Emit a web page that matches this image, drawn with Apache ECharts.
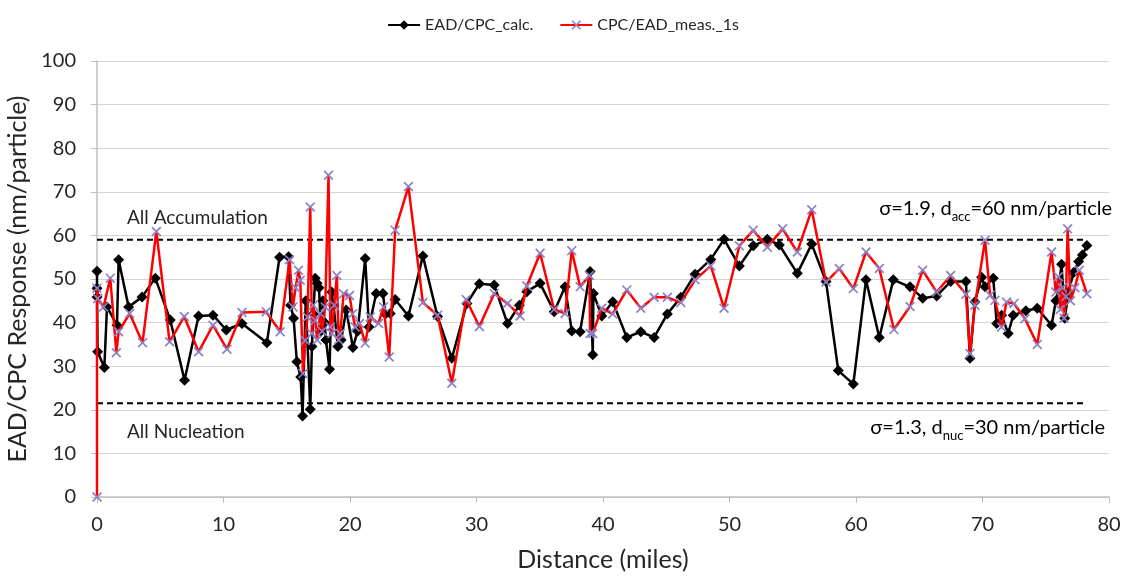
<!DOCTYPE html>
<html><head><meta charset="utf-8">
<script src="https://cdn.jsdelivr.net/npm/echarts@6/dist/echarts.min.js"></script>
<style>html,body{margin:0;padding:0;background:#fff}#c{width:1126px;height:576px}</style>
</head><body><div id="c"></div>
<script>
// Distance (miles), EAD/CPC calc. values
const calcDist = [0,0,0,0.05,0.58,0.79,1.58,1.71,2.5,3.56,4.61,5.79,6.92,8.03,9.17,10.22,11.46,13.43,14.43,15.14,15.3,15.54,15.8,16.1,16.25,16.5,16.86,16.99,17.1,17.25,17.4,17.55,17.7,17.85,18.0,18.1,18.38,18.55,18.7,19.04,19.3,19.7,20.23,20.6,21.2,21.5,22.07,22.6,22.8,23.18,23.57,24.62,25.76,26.92,28.05,29.24,30.23,31.4,32.45,33.39,33.98,35.03,36.14,37.0,37.53,38.19,38.98,39.19,39.24,39.9,40.77,41.88,42.99,44.04,45.09,46.15,47.28,48.52,49.57,50.78,51.88,52.99,53.94,55.36,56.5,57.63,58.6,59.79,60.79,61.84,62.95,64.27,65.27,66.38,67.48,68.69,69.01,69.4,69.93,70.2,70.85,71.12,71.51,72.03,72.43,73.43,74.33,75.46,75.8,76.0,76.25,76.5,76.8,77.2,77.6,77.9,78.25];
const calcVal  = [47.9,51.8,45.9,33.3,29.7,43.6,39.4,54.4,43.6,45.9,50.2,40.6,26.8,41.5,41.7,38.3,39.8,35.4,55.0,55.1,44,41,31,27.5,18.6,45,20.1,34.5,42,50.2,49,48,38,45,40,36,29.3,47,44,34.5,36,42.9,34.3,38,54.7,39,46.7,46.7,42,42.1,45.3,41.5,55.3,41.4,31.8,44.4,48.9,48.6,39.8,44,47.1,49,42.5,48.2,38.1,37.9,51.7,32.6,46.7,41.5,44.8,36.6,37.9,36.6,42,45.8,51.1,54.5,59.1,53,57.6,59.1,57.8,51.3,58,49.4,29,25.9,49.8,36.6,49.8,48.2,45.6,46.1,49.4,49.4,31.8,44.8,50.4,48.2,50.2,39.8,41.7,37.5,41.7,42.7,43.3,39.4,45,47.5,53.4,41,47,51.5,54,55.5,57.7];
// Distance (miles), CPC/EAD measured 1s values
const measDist = [0,0,0.05,0.52,1.05,1.53,1.71,2.58,3.6,4.69,5.74,6.9,8.03,9.17,10.27,11.46,13.38,14.48,15.22,15.49,15.7,15.93,16.07,16.28,16.46,16.64,16.86,16.99,17.1,17.25,17.4,17.65,17.8,18.04,18.3,18.45,18.57,18.75,18.96,19.1,19.23,19.49,19.96,20.2,20.41,20.75,21.2,21.6,22.25,22.65,23.1,23.57,24.62,25.76,26.92,28.05,29.18,30.23,31.4,32.45,33.45,33.98,35.03,36.14,37.0,37.53,38.19,38.93,38.98,39.19,39.9,40.77,41.88,42.99,44.04,45.09,46.15,47.28,48.52,49.57,50.78,51.88,52.99,54.2,55.36,56.5,57.63,58.68,59.79,60.79,61.84,63.0,64.27,65.27,66.38,67.48,68.69,69.01,69.4,70.2,70.6,70.98,71.51,71.9,72.49,73.35,74.33,75.46,75.8,76.0,76.15,76.3,76.45,76.6,76.73,76.95,77.3,77.65,78.25];
const measVal  = [0,47.9,45.5,43.6,50.2,33.1,37.9,42.1,35.4,60.9,35.6,41.4,33.3,39.4,33.9,42.3,42.5,37.9,54.4,43.6,48,52,49.7,28.3,35.9,41.3,66.5,37.5,44,40.5,36,42.1,38,43.6,73.8,39,37.5,44,50.8,36,37.5,46.6,46.2,42,39,39.8,35.3,41.3,39.8,43.6,32.1,61.2,71.2,44.6,41.7,26.1,45.3,39.1,46.7,44.4,41.5,48.4,55.9,43,42.1,56.5,48.2,50.8,37.5,37.5,43.3,42,47.5,43.3,45.8,45.8,44.6,49.8,53,43.3,57.6,61.2,57.3,61.5,56.2,65.9,49.3,52.4,47.8,56.2,52.4,38.4,43.7,52,47,50.8,46.5,32.9,44,58.9,46.3,45.1,39,44.7,44.4,40.9,35,56.2,47,50.5,43,48,41,46,61.5,45,48,52,46.6];
// Reference lines: All Accumulation / All Nucleation
const refDist = [0, 78.25];
const accVal = 59;
const nucVal = 21.5;
const xTicks = [0,10,20,30,40,50,60,70,80];

const pair = (xs, ys) => xs.map((x,i) => [x, ys[i]]);
const FONT = 'Lato';
const X_PATH = 'path://M0,1.2 L1.2,0 L10,8.8 L8.8,10 Z M8.8,0 L10,1.2 L1.2,10 L0,8.8 Z';
const TXT = '#262626';

const chart = echarts.init(document.getElementById('c'), null, {renderer:'canvas'});
chart.setOption({
  animation:false,
  textStyle:{fontFamily:FONT},
  legend:{
    top:12, left:'center', itemWidth:32, itemHeight:12, itemGap:26,
    textStyle:{fontFamily:FONT, fontSize:16, color:TXT},
    data:['EAD/CPC_calc.','CPC/EAD_meas._1s']
  },
  grid:{left:97, right:17, top:61, bottom:79, outerBoundsMode:'none', containLabel:false},
  xAxis:{
    type:'value', min:0, max:80, interval:10,
    name:'Distance (miles)', nameLocation:'middle', nameGap:50,
    nameTextStyle:{fontFamily:FONT, fontSize:25, color:TXT},
    axisLine:{show:true, lineStyle:{color:'#bfbfbf', width:1.5}},
    axisTick:{show:true, length:6, lineStyle:{color:'#bfbfbf'}},
    axisLabel:{fontSize:20, color:TXT, margin:18, formatter:v=>xTicks.includes(v)?String(v):''},
    splitLine:{show:false}
  },
  yAxis:{
    type:'value', min:0, max:100, interval:10,
    name:'EAD/CPC Response (nm/particle)', nameLocation:'middle', nameGap:54,
    nameTextStyle:{fontFamily:FONT, fontSize:25, color:TXT},
    axisLine:{show:true, lineStyle:{color:'#bfbfbf', width:1.5}},
    axisTick:{show:true, length:6, lineStyle:{color:'#bfbfbf'}},
    axisLabel:{fontSize:20, color:TXT, margin:21},
    splitLine:{show:true, lineStyle:{color:'#d4d4d4', width:1.2}}
  },
  graphic:[
    {type:'text', left:127, top:208, style:{text:'All Accumulation', font:'19px Lato', fill:TXT}},
    {type:'text', left:127, top:422, style:{text:'All Nucleation', font:'19px Lato', fill:TXT}},
    {type:'text', right:14, top:199, style:{
      text:'{a|σ=1.9, d}{s|acc}{a|=60 nm/particle}',
      rich:{a:{fontFamily:FONT,fontSize:20,color:TXT,lineHeight:28,verticalAlign:'middle'},
            s:{fontFamily:FONT,fontSize:13,color:TXT,lineHeight:12,verticalAlign:'bottom'}}}},
    {type:'text', right:21, top:418, style:{
      text:'{a|σ=1.3, d}{s|nuc}{a|=30 nm/particle}',
      rich:{a:{fontFamily:FONT,fontSize:20,color:TXT,lineHeight:28,verticalAlign:'middle'},
            s:{fontFamily:FONT,fontSize:13,color:TXT,lineHeight:12,verticalAlign:'bottom'}}}}
  ],
  series:[
    {name:'accLine', type:'line', data:pair(refDist,[accVal,accVal]), symbol:'none', silent:true,
     lineStyle:{color:'#000', width:2.2, type:[6,4]}, z:1},
    {name:'nucLine', type:'line', data:pair(refDist,[nucVal,nucVal]), symbol:'none', silent:true,
     lineStyle:{color:'#000', width:2.2, type:[6,4]}, z:1},
    {name:'EAD/CPC_calc.', type:'line', data:pair(calcDist,calcVal),
     symbol:'diamond', symbolSize:11, showAllSymbol:true,
     lineStyle:{color:'#000', width:2.5}, itemStyle:{color:'#000'}, z:2},
    {name:'CPC/EAD_meas._1s', type:'line', data:pair(measDist,measVal),
     symbol:X_PATH, symbolSize:10, showAllSymbol:true,
     lineStyle:{color:'#ff0000', width:2.5}, itemStyle:{color:'#8f7fc4'}, z:3}
  ]
});
</script></body></html>
